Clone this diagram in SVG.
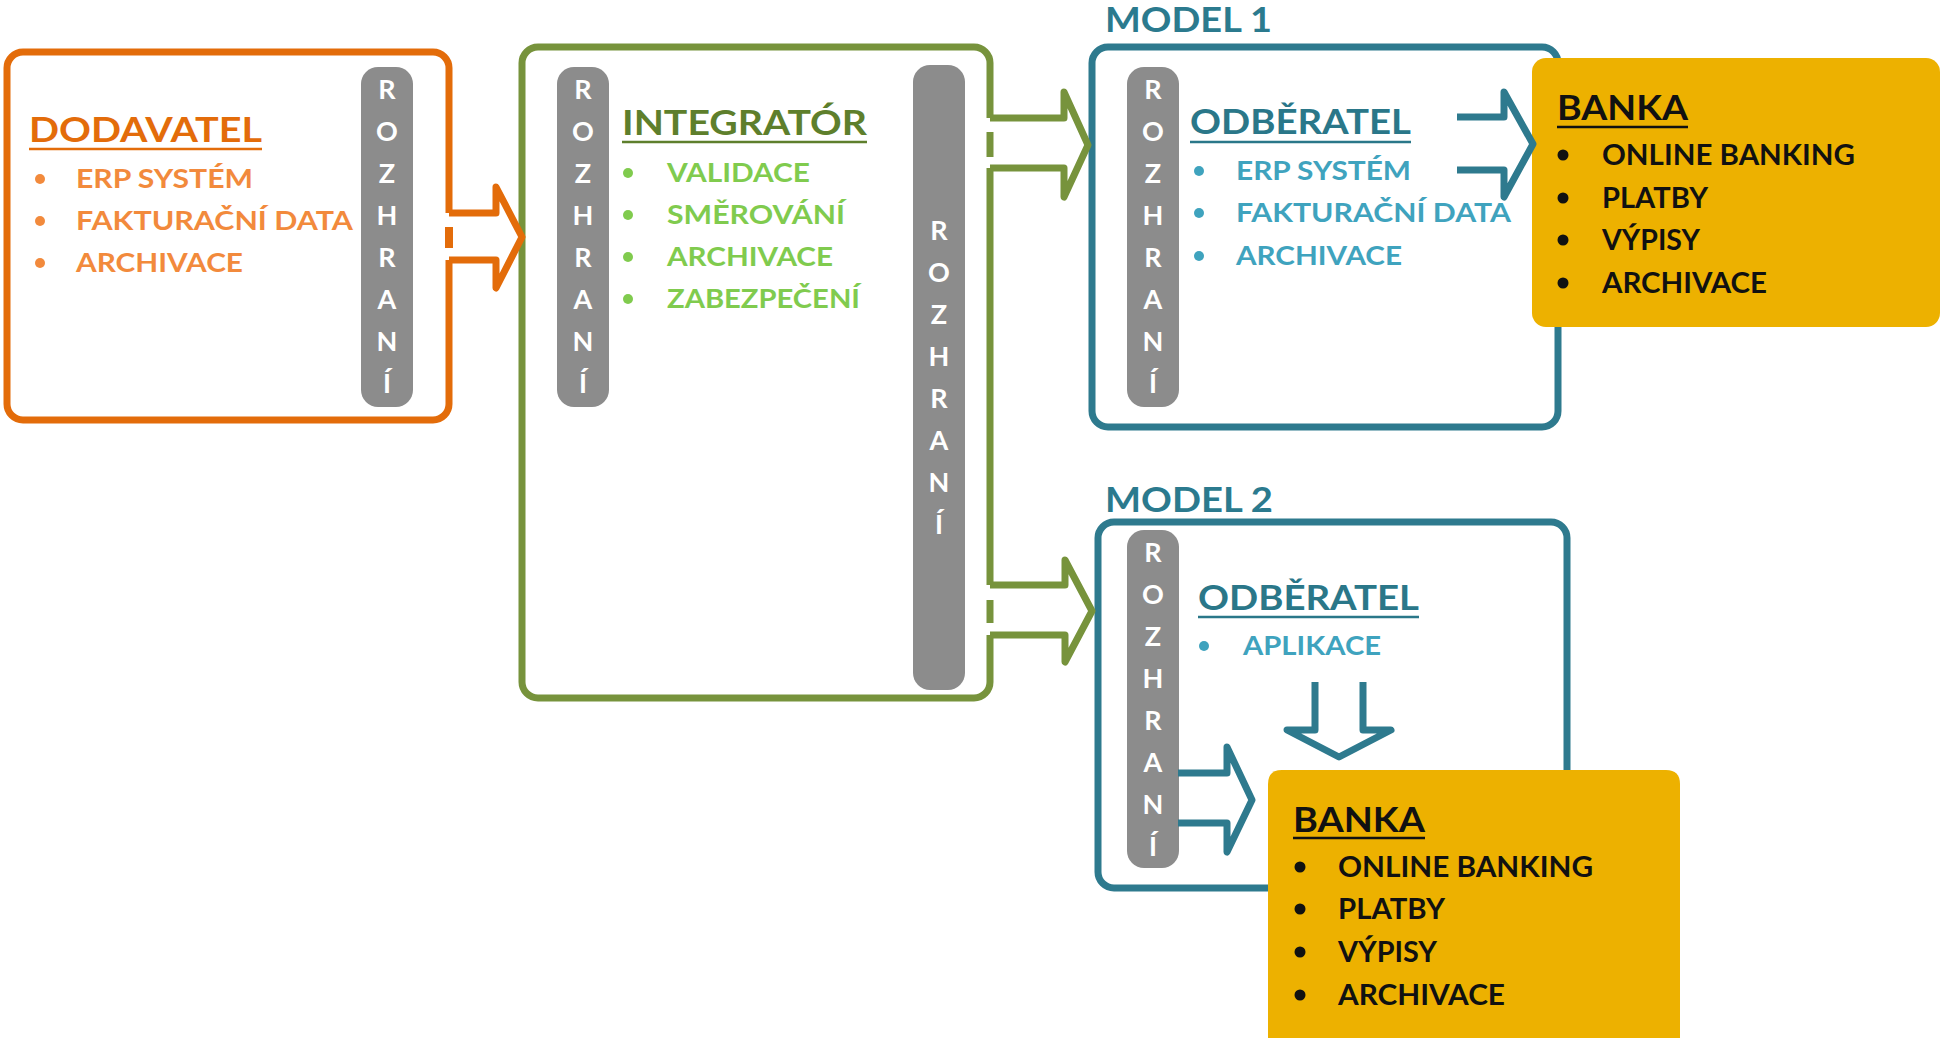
<svg xmlns="http://www.w3.org/2000/svg" width="1941" height="1038" viewBox="0 0 1941 1038">
<style>
.t{font-family:Lato,"Liberation Sans",sans-serif;font-weight:700}
.ttl{font-size:35px}
.it{font-size:27px}
.bk{font-size:28px;fill:#111}
.pl{fill:#8C8C8C}
.pt{fill:#fff;font-size:27px;text-anchor:middle;font-family:Lato,"Liberation Sans",sans-serif;font-weight:700}
.box{fill:#fff;stroke-width:7}
.ul{stroke-width:2.5}
.arr{fill:none;stroke-width:7;stroke-linejoin:round}
.wf{fill:#fff;stroke:none}
</style>
<rect width="1941" height="1038" fill="#fff"/>

<g id="dodavatel">
<rect class="box" x="7" y="52" width="442" height="368" rx="16" stroke="#E36C0A" stroke-width="8"/>
<rect class="pl" x="361" y="67" width="52" height="340" rx="17"/>
<g class="pt"><text x="387" y="99">R</text><text x="387" y="141">O</text><text x="387" y="183">Z</text><text x="387" y="225">H</text><text x="387" y="267">R</text><text x="387" y="309">A</text><text x="387" y="351">N</text><text x="387" y="393">Í</text></g>
<text class="t ttl" x="29" y="142" fill="#E36C0A" textLength="233" lengthAdjust="spacingAndGlyphs">DODAVATEL</text>
<line class="ul" x1="29" y1="149" x2="262" y2="149" stroke="#E36C0A"/>
<g fill="#F28A3C">
<circle cx="40" cy="179" r="5"/><circle cx="40" cy="221" r="5"/><circle cx="40" cy="263" r="5"/>
<text class="t it" x="76" y="188" textLength="177" lengthAdjust="spacingAndGlyphs">ERP SYSTÉM</text>
<text class="t it" x="76" y="230" textLength="277" lengthAdjust="spacingAndGlyphs">FAKTURAČNÍ DATA</text>
<text class="t it" x="76" y="272" textLength="167" lengthAdjust="spacingAndGlyphs">ARCHIVACE</text>
</g>
</g>

<g id="integrator">
<rect class="box" x="522" y="47" width="468" height="651" rx="16" stroke="#77933C"/>
<rect class="pl" x="557" y="67" width="52" height="340" rx="17"/>
<g class="pt"><text x="583" y="99">R</text><text x="583" y="141">O</text><text x="583" y="183">Z</text><text x="583" y="225">H</text><text x="583" y="267">R</text><text x="583" y="309">A</text><text x="583" y="351">N</text><text x="583" y="393">Í</text></g>
<rect class="pl" x="913" y="65" width="52" height="625" rx="17"/>
<g class="pt"><text x="939" y="240">R</text><text x="939" y="282">O</text><text x="939" y="324">Z</text><text x="939" y="366">H</text><text x="939" y="408">R</text><text x="939" y="450">A</text><text x="939" y="492">N</text><text x="939" y="534">Í</text></g>
<text class="t ttl" x="622" y="135" fill="#5E7F2C" textLength="245" lengthAdjust="spacingAndGlyphs">INTEGRATÓR</text>
<line class="ul" x1="622" y1="142" x2="867" y2="142" stroke="#5E7F2C"/>
<g fill="#80CB4E">
<circle cx="628" cy="173" r="5"/><circle cx="628" cy="215" r="5"/><circle cx="628" cy="257" r="5"/><circle cx="628" cy="299" r="5"/>
<text class="t it" x="667" y="182" textLength="143" lengthAdjust="spacingAndGlyphs">VALIDACE</text>
<text class="t it" x="667" y="224" textLength="178" lengthAdjust="spacingAndGlyphs">SMĚROVÁNÍ</text>
<text class="t it" x="667" y="266" textLength="166" lengthAdjust="spacingAndGlyphs">ARCHIVACE</text>
<text class="t it" x="667" y="308" textLength="193" lengthAdjust="spacingAndGlyphs">ZABEZPEČENÍ</text>
</g>
</g>

<g id="model1">
<text class="t ttl" x="1105" y="32" fill="#2B7A8E" textLength="167" lengthAdjust="spacingAndGlyphs">MODEL 1</text>
<rect class="box" x="1092" y="47" width="466" height="380" rx="16" stroke="#2E7A8E"/>
<rect class="pl" x="1127" y="67" width="52" height="340" rx="17"/>
<g class="pt"><text x="1153" y="99">R</text><text x="1153" y="141">O</text><text x="1153" y="183">Z</text><text x="1153" y="225">H</text><text x="1153" y="267">R</text><text x="1153" y="309">A</text><text x="1153" y="351">N</text><text x="1153" y="393">Í</text></g>
<text class="t ttl" x="1190" y="134" fill="#2A7789" textLength="221" lengthAdjust="spacingAndGlyphs">ODBĚRATEL</text>
<line class="ul" x1="1190" y1="142" x2="1411" y2="142" stroke="#2A7789"/>
<g fill="#3FA3BE">
<circle cx="1199" cy="171" r="5"/><circle cx="1199" cy="213" r="5"/><circle cx="1199" cy="256" r="5"/>
<text class="t it" x="1236" y="180" textLength="175" lengthAdjust="spacingAndGlyphs">ERP SYSTÉM</text>
<text class="t it" x="1236" y="222" textLength="275" lengthAdjust="spacingAndGlyphs">FAKTURAČNÍ DATA</text>
<text class="t it" x="1236" y="265" textLength="166" lengthAdjust="spacingAndGlyphs">ARCHIVACE</text>
</g>
</g>

<g id="banka1">
<rect x="1532" y="58" width="408" height="269" rx="14" fill="#EDB100"/>
<text class="t ttl" x="1557" y="120" fill="#111" textLength="131" lengthAdjust="spacingAndGlyphs">BANKA</text>
<line class="ul" x1="1557" y1="127" x2="1688" y2="127" stroke="#111"/>
<g fill="#111">
<circle cx="1563" cy="155" r="5.5"/><circle cx="1563" cy="198" r="5.5"/><circle cx="1563" cy="240" r="5.5"/><circle cx="1563" cy="283" r="5.5"/>
<text class="t bk" x="1602" y="165" textLength="253" lengthAdjust="spacingAndGlyphs">ONLINE BANKING</text>
<text class="t bk" x="1602" y="208" textLength="106" lengthAdjust="spacingAndGlyphs">PLATBY</text>
<text class="t bk" x="1602" y="250" textLength="98" lengthAdjust="spacingAndGlyphs">VÝPISY</text>
<text class="t bk" x="1602" y="293" textLength="165" lengthAdjust="spacingAndGlyphs">ARCHIVACE</text>
</g>
</g>

<g id="model2">
<text class="t ttl" x="1105" y="512" fill="#2B7A8E" textLength="168" lengthAdjust="spacingAndGlyphs">MODEL 2</text>
<rect class="box" x="1098" y="522" width="469" height="366" rx="16" stroke="#2E7A8E"/>
<rect class="pl" x="1127" y="530" width="52" height="338" rx="17"/>
<g class="pt"><text x="1153" y="562">R</text><text x="1153" y="604">O</text><text x="1153" y="646">Z</text><text x="1153" y="688">H</text><text x="1153" y="730">R</text><text x="1153" y="772">A</text><text x="1153" y="814">N</text><text x="1153" y="856">Í</text></g>
<text class="t ttl" x="1198" y="610" fill="#2A7789" textLength="221" lengthAdjust="spacingAndGlyphs">ODBĚRATEL</text>
<line class="ul" x1="1198" y1="617" x2="1419" y2="617" stroke="#2A7789"/>
<circle cx="1204" cy="646" r="5" fill="#3FA3BE"/>
<text class="t it" x="1243" y="655" fill="#3FA3BE" textLength="138" lengthAdjust="spacingAndGlyphs">APLIKACE</text>
</g>

<g id="banka2">
<path d="M1268,1038 V784 Q1268,770 1282,770 H1666 Q1680,770 1680,784 V1038 Z" fill="#EDB100"/>
<text class="t ttl" x="1293" y="832" fill="#111" textLength="132" lengthAdjust="spacingAndGlyphs">BANKA</text>
<line class="ul" x1="1293" y1="838" x2="1425" y2="838" stroke="#111"/>
<g fill="#111">
<circle cx="1300" cy="867" r="5.5"/><circle cx="1300" cy="909" r="5.5"/><circle cx="1300" cy="952" r="5.5"/><circle cx="1300" cy="995" r="5.5"/>
<text class="t bk" x="1338" y="877" textLength="255" lengthAdjust="spacingAndGlyphs">ONLINE BANKING</text>
<text class="t bk" x="1338" y="919" textLength="107" lengthAdjust="spacingAndGlyphs">PLATBY</text>
<text class="t bk" x="1338" y="962" textLength="99" lengthAdjust="spacingAndGlyphs">VÝPISY</text>
<text class="t bk" x="1338" y="1005" textLength="167" lengthAdjust="spacingAndGlyphs">ARCHIVACE</text>
</g>
</g>

<g id="connectors">
<path class="wf" d="M444,213 H496 V187 L522,237 L496,288 V260 H444 Z"/>
<path class="arr" stroke="#E36C0A" stroke-width="8" d="M449,213 H496 V187 L522,237 L496,288 V260 H449"/>
<line x1="449" y1="227" x2="449" y2="248" stroke="#E36C0A" stroke-width="8"/>

<path class="wf" d="M985,118 H1064 V92 L1088,145 L1064,197 V168 H985 Z"/>
<path class="arr" stroke="#77933C" d="M990,118 H1064 V92 L1088,145 L1064,197 V168 H990"/>
<line x1="990" y1="132" x2="990" y2="157" stroke="#77933C" stroke-width="7"/>

<path class="wf" d="M985,585 H1065 V560 L1092,611 L1065,662 V635 H985 Z"/>
<path class="arr" stroke="#77933C" d="M990,585 H1065 V560 L1092,611 L1065,662 V635 H990"/>
<line x1="990" y1="600" x2="990" y2="623" stroke="#77933C" stroke-width="7"/>

<path class="arr" stroke="#2E7A8E" d="M1457,117 H1504 V92 L1533,144 L1504,197 V170 H1457"/>
<path class="arr" stroke="#2E7A8E" d="M1315,682 V730 H1287 L1339,757 L1391,730 H1363 V682"/>
<path class="arr" stroke="#2E7A8E" d="M1178,773 H1227 V747 L1252,800 L1227,852 V823 H1178"/>
</g>
</svg>
